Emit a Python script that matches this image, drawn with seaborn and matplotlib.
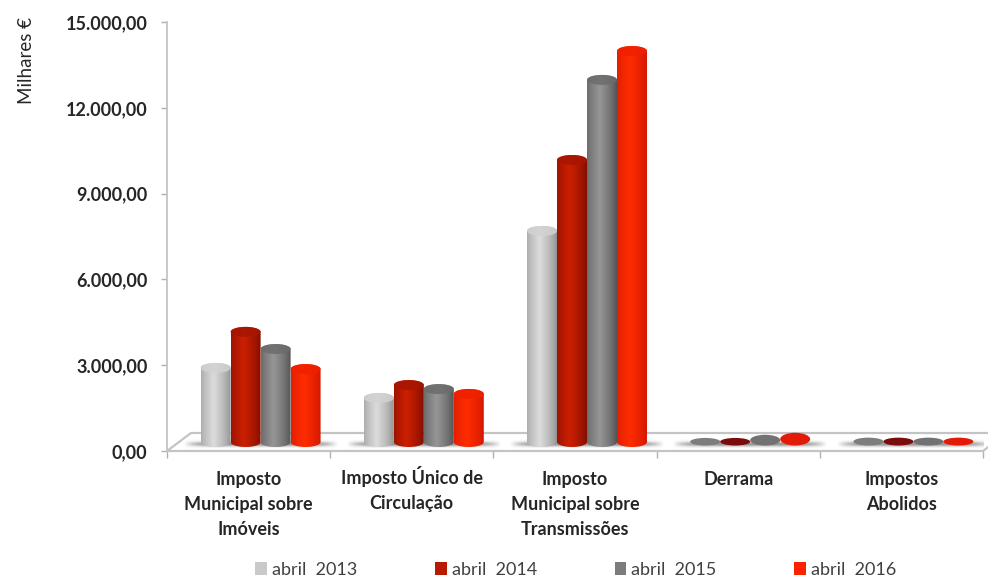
import numpy as np
import pandas as pd
import matplotlib
matplotlib.use("Agg")
import matplotlib.pyplot as plt
from matplotlib.patches import Ellipse, PathPatch, Polygon
from matplotlib.path import Path
from matplotlib.transforms import ScaledTranslation
import seaborn as sns

categorias = ["Imposto\nMunicipal sobre\nImóveis", "Imposto Único de\nCirculação",
              "Imposto\nMunicipal sobre\nTransmissões", "Derrama", "Impostos\nAbolidos"]
anos = ["abril  2013", "abril  2014", "abril  2015", "abril  2016"]
v2013 = [2590, 1540, 7380, 20, 30]
v2014 = [3850, 1990, 9860, 20, 30]
v2015 = [3250, 1850, 12660, 130, 30]
v2016 = [2550, 1680, 13670, 200, 30]
y_ticks = [0, 3000, 6000, 9000, 12000, 15000]
y_labels = ["0,00", "3.000,00", "6.000,00", "9.000,00", "12.000,00", "15.000,00"]

cores = ["#c9c9c9", "#b81a00", "#7c7c7c", "#fb2200"]
# edge / middle colours of each cylinder
grad = [("#8f8f8f", "#dcdcdc"), ("#7e0d00", "#cc1f00"), ("#505050", "#969696"), ("#cf1600", "#ff2c00")]
tampa = ["#d2d2d2", "#a81500", "#6c6c6c", "#f02000"]
# nearly empty bars look like flat, darker discs
disco = ["#7d7d7d", "#7a0c0c", "#727272", "#e41a08"]

sns.set_theme(style="white")
plt.rcParams["font.family"] = ["Lato", "DejaVu Sans"]

df = pd.DataFrame({"cat": categorias, anos[0]: v2013, anos[1]: v2014, anos[2]: v2015, anos[3]: v2016})
df = df.melt(id_vars="cat", var_name="ano", value_name="valor")

fig = plt.figure(figsize=(9.88, 5.76), dpi=100)
ax = fig.add_axes([167 / 988, 1 - 451 / 576, 816 / 988, 429 / 576])

# depth of the fake 3D floor
px_x = 1 / 163.2
px_y = 15000 / 429
base = 9 * px_y
shift = 12 * px_x
ry = 5 * px_y

sns.barplot(data=df, x="cat", y="valor", hue="ano", palette=cores, width=0.735, gap=0,
            saturation=1, linewidth=0, ax=ax, zorder=3)
ax.set_xlim(-0.5, 4.5)
ax.set_ylim(0, 15000)

# floor
ax.add_patch(Polygon([(-0.5, 0), (-0.5 + 24 * px_x, 18 * px_y), (4.5 + 24 * px_x, 18 * px_y), (4.5, 0)],
                     closed=True, facecolor="white", edgecolor="#c4c4c4", lw=1.6, zorder=1, clip_on=False))

# soft shadow on the floor under each group
sx = np.linspace(-1, 1, 200)
sy = np.linspace(-1, 1, 20)
alpha = np.clip(1 - np.abs(sx[None, :]) ** 6, 0, 1) * np.exp(-(sy[:, None] / 0.5) ** 2) * 0.85
sombra = np.zeros((20, 200, 4))
sombra[..., :3] = 0.5
sombra[..., 3] = alpha
for i in range(len(categorias)):
    ax.imshow(sombra, extent=(i + shift - 0.47, i + shift + 0.47, base - 7 * px_y, base + 3 * px_y),
              aspect="auto", zorder=2, interpolation="bilinear")

# turn the flat bars into cylinders
t = np.linspace(0, np.pi, 40)
u = np.linspace(0, 1, 64)
for k, cont in enumerate(ax.containers):
    c0 = np.array(matplotlib.colors.to_rgb(grad[k][0]))
    c1 = np.array(matplotlib.colors.to_rgb(grad[k][1]))
    peso = np.clip(1 - np.abs(u - 0.42) / 0.58, 0, 1)[:, None] ** 0.7
    img = (c0 + (c1 - c0) * peso)[None, :, :]
    for p in cont:
        x = p.get_x() + shift
        w = p.get_width()
        p.set_visible(False)
        p.set_x(x)
        p.set_y(base)
        cx = x + w / 2
        y0 = p.get_y()
        y1 = y0 + p.get_height()
        if p.get_height() < 300:
            ax.add_patch(Ellipse((cx, (y0 + y1) / 2), w, 7 * px_y + y1 - y0, facecolor=disco[k],
                                 edgecolor="none", zorder=3.05 + k * 0.1))
            continue
        pts = np.vstack([np.c_[cx + w / 2 * np.cos(t), y1 + ry * np.sin(t)],
                         np.c_[cx - w / 2 * np.cos(t), y0 - ry * np.sin(t)]])
        im = ax.imshow(img, extent=(x, x + w, y0 - ry, y1 + ry), aspect="auto",
                       zorder=3 + k * 0.1, interpolation="bilinear")
        clip = PathPatch(Path(np.vstack([pts, pts[0]]), closed=True), transform=ax.transData)
        im.set_clip_path(clip)
        ax.add_patch(Ellipse((cx, y1), w, 2 * ry, facecolor=tampa[k], edgecolor="none",
                             alpha=0.85, zorder=3.05 + k * 0.1))
ax.set_xlim(-0.5, 4.5)
ax.set_ylim(0, 15000)

# axes
for s in ["top", "right"]:
    ax.spines[s].set_visible(False)
for s in ["left", "bottom"]:
    ax.spines[s].set_color("#c4c4c4")
    ax.spines[s].set_linewidth(1.3)
ax.set_xlabel("")
ax.set_ylabel("")
ax.set_yticks(y_ticks)
ax.set_yticklabels(y_labels, fontsize=13, fontweight="bold", color="#262626")
ax.tick_params(axis="y", length=4, width=1, color="#b0b0b0", pad=10, left=True)
ax.set_xticks(range(len(categorias)))
ax.set_xticklabels(categorias, fontsize=13, fontweight="bold", color="#262626", linespacing=1.58)
ax.set_xticks(np.arange(-0.5, 5), minor=True)
ax.tick_params(axis="x", which="major", length=0, pad=14.5)
ax.tick_params(axis="x", which="minor", length=5, width=1, color="#b0b0b0", bottom=True)

# the accent on Ú pushes this label down, lift it back level with the others
lab = ax.get_xticklabels()[1]
lab.set_transform(lab.get_transform() + ScaledTranslation(0, 5 / 100, fig.dpi_scale_trans))

fig.text(27 / 988, 1 - 61 / 576, "Milhares €", rotation=90, fontsize=13.5, color="#262626",
         ha="center", va="center")

sns.move_legend(ax, "center", bbox_to_anchor=(0.501, -0.277), ncol=4, frameon=False, title=None,
                fontsize=13, handlelength=0.65, handleheight=0.65, handletextpad=0.28,
                columnspacing=4.3, labelcolor="#404040")

fig.savefig("out.png", dpi=100)
